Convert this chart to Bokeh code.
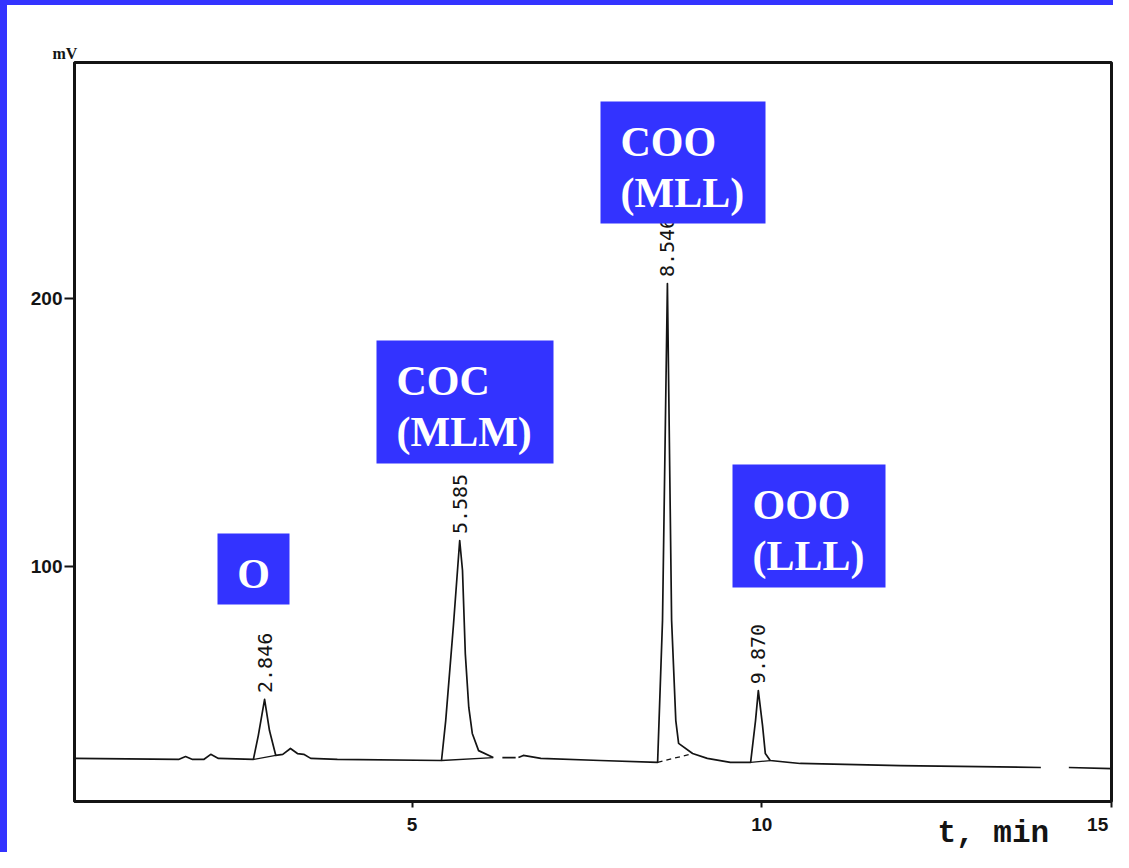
import math
from bokeh.plotting import figure
from bokeh.models import FixedTicker, Range1d, Title
from bokeh.core.properties import value
from bokeh.embed import file_html
from bokeh.resources import INLINE

NaN = float("nan")

# ---------------- data ----------------
# chromatogram trace: time (min) and signal (mV); NaN marks a pen gap
trace_t = [0.17, 1.66, 1.76, 1.86, 2.02, 2.12, 2.23, 2.73, 2.80, 2.89, 2.96, 3.05, 3.15, 3.26, 3.36, 3.45, 3.55, 3.93,
           5.42, 5.48, 5.59, 5.68, 5.72, 5.76, 5.81, 5.86, 5.95, 6.16, NaN,
           6.29, 6.48, NaN,
           6.52, 6.59, 6.84, 7.69, 8.51, 8.58, 8.65, 8.71, 8.77, 8.81, 9.01, 9.22, 9.55,
           9.84, 9.91, 9.95, 10.01, 10.05, 10.12, 10.55, 11.98, 13.99, NaN,
           14.39, 15.0]
trace_mv = [28.4, 28.0, 29.1, 28.0, 28.0, 29.9, 28.4, 28.0, 36.9, 50.4, 38.8, 29.5, 29.9, 32.1, 30.2, 29.9, 28.4, 28.0,
            27.6, 42.5, 78.0, 109.7, 98.5, 67.5, 47.4, 37.7, 31.3, 28.7, NaN,
            28.7, 28.7, NaN,
            28.7, 29.5, 28.4, 27.6, 26.9, 79.9, 205.6, 79.9, 42.5, 34.0, 30.2, 28.4, 26.9,
            26.9, 42.5, 53.7, 40.7, 30.2, 27.6, 26.5, 25.7, 25.0, NaN,
            25.0, 24.6]

# peaks: printed retention times and apex positions
rt_labels = ["2.846", "5.585", "8.546", "9.870"]
peak_apex_t = [2.89, 5.68, 8.65, 9.95]
peak_apex_mv = [50.4, 109.7, 205.6, 53.7]

# integrator baselines drawn under each peak
base_t0 = [2.73, 5.42, 8.51, 9.84]
base_mv0 = [28.0, 27.6, 26.9, 26.9]
base_t1 = [3.05, 6.16, 9.01, 10.12]
base_mv1 = [29.5, 28.7, 30.2, 27.6]

# compound annotations
compound_line1 = ["O", "COC", "COO", "OOO"]
compound_line2 = ["", "(MLM)", "(MLL)", "(LLL)"]

x_ticks = [5, 10, 15]
y_ticks = [100, 200]
x_range = (0.172, 15.0)
y_range = (12.31, 288.06)

# ---------------- layout / style ----------------
BLUE = "#3333FF"
INK = "#141414"
W, H = 1113, 852
FRAME_L, FRAME_R, FRAME_T, FRAME_B = 74, 1111, 62, 801


def tx(px):               # picture x pixel -> minutes
    return x_range[0] + (px - FRAME_L) * (x_range[1] - x_range[0]) / (FRAME_R - FRAME_L)


def my(py):               # picture y pixel -> mV
    return y_range[0] + (FRAME_B - py) * (y_range[1] - y_range[0]) / (FRAME_B - FRAME_T)


p = figure(width=W, height=H, output_backend="svg", toolbar_location=None,
           x_range=Range1d(*x_range), y_range=Range1d(*y_range),
           min_border_left=FRAME_L, min_border_right=W - FRAME_R,
           min_border_top=FRAME_T, min_border_bottom=H - FRAME_B)
p.grid.visible = False
p.background_fill_color = "white"
p.border_fill_color = "white"
p.border_fill_alpha = 0.0
p.styles = {"box-shadow": "inset 7px 5px 0 0 #3333FF"}
p.outline_line_color = INK
p.outline_line_width = 3

for ax in (p.xaxis[0], p.yaxis[0]):
    ax.axis_line_color = INK
    ax.axis_line_width = 3
    ax.major_tick_line_color = INK
    ax.major_tick_line_width = 2
    ax.major_tick_in = 0
    ax.minor_tick_line_color = None
    ax.major_label_text_font = "Liberation Sans"
    ax.major_label_text_font_style = "bold"
    ax.major_label_text_font_size = "19px"
    ax.major_label_text_color = INK

p.xaxis[0].ticker = FixedTicker(ticks=x_ticks)
p.xaxis[0].major_tick_out = 6
p.xaxis[0].major_label_standoff = 6
p.xaxis[0].major_label_overrides = {15: "15\u00a0"}
p.yaxis[0].ticker = FixedTicker(ticks=y_ticks)
p.yaxis[0].major_tick_out = 10
p.yaxis[0].major_label_standoff = 2

# integrator baselines
solid = [0, 1, 3]
p.segment(x0=[base_t0[i] for i in solid], y0=[base_mv0[i] for i in solid],
          x1=[base_t1[i] for i in solid], y1=[base_mv1[i] for i in solid],
          line_color=INK, line_width=1.3)
p.segment(x0=[base_t0[2]], y0=[base_mv0[2]], x1=[base_t1[2]], y1=[base_mv1[2]],
          line_color=INK, line_width=1.3, line_dash="5 4")

# trace
p.line(trace_t, trace_mv, line_color=INK, line_width=1.7, line_join="round")

# retention-time labels
p.text(x=peak_apex_t, y=[m + 2.4 for m in peak_apex_mv], text=rt_labels, angle=math.pi / 2,
       text_align="left", text_baseline="middle", text_font=value("DejaVu Sans Mono"),
       text_font_size="20px", text_color=INK)

# blue compound boxes (picture pixel boxes)
box_px = [(217, 533, 289, 604), (376, 340, 553, 463), (600, 101, 765, 223), (732, 464, 885, 587)]
p.quad(left=[tx(b[0]) for b in box_px], right=[tx(b[2]) for b in box_px],
       top=[my(b[1]) for b in box_px], bottom=[my(b[3]) for b in box_px],
       fill_color=BLUE, line_color=None)

one_line = [i for i, s in enumerate(compound_line2) if not s]
two_line = [i for i, s in enumerate(compound_line2) if s]
p.text(x=[tx((box_px[i][0] + box_px[i][2]) / 2) for i in one_line],
       y=[my(box_px[i][1] + 40) for i in one_line],
       text=[compound_line1[i] for i in one_line], text_align="center", text_baseline="alphabetic",
       text_font=value("Liberation Serif"), text_font_style="bold", text_font_size="42px",
       text_color="white")
p.text(x=[tx(box_px[i][0] + 20) for i in two_line] * 2,
       y=[my(box_px[i][1] + 40) for i in two_line] + [my(box_px[i][1] + 91) for i in two_line],
       text=[compound_line1[i] for i in two_line] + [compound_line2[i] for i in two_line],
       text_align="left", text_baseline="alphabetic",
       text_font=value("Liberation Serif"), text_font_style="bold", text_font_size="42px",
       text_color="white")

# axis captions as titles in the side panels (not clipped by the frame)
p.add_layout(Title(text="mV", align="left", offset=52 - FRAME_L, standoff=1,
                   text_font="Liberation Serif", text_font_style="bold",
                   text_font_size="16px", text_color=INK), "above")
p.add_layout(Title(text="t, min", align="left", vertical_align="top", offset=937 - FRAME_L,
                   standoff=-43, text_font="Liberation Mono", text_font_style="bold",
                   text_font_size="31px", text_color=INK), "below")

open("out.html", "w").write(file_html(p, INLINE))
